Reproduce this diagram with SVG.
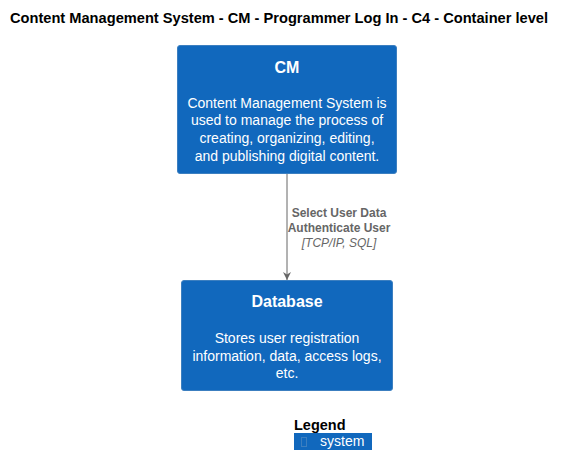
<svg xmlns="http://www.w3.org/2000/svg" width="566" height="476" viewBox="0 0 566 476">
<style>
text{font-family:"Liberation Sans",Arial,sans-serif}
.box{fill:#1168BD;stroke:#3C7FC0;stroke-width:1}
.nt{fill:#FFFFFF;font-size:16px;font-weight:bold;text-anchor:middle}
.nd{fill:#FFFFFF;font-size:14px;text-anchor:middle}
.el{fill:#666666;font-size:12px;font-weight:bold;text-anchor:middle}
.et{fill:#666666;font-size:12px;font-style:italic;text-anchor:middle}
</style>
<defs>
<marker id="arr" viewBox="0 0 10 10" refX="10" refY="5" markerWidth="8" markerHeight="8" markerUnits="userSpaceOnUse" orient="auto">
<path d="M0,0 L10,5 L0,10 L3,5 Z" fill="#666666"/>
</marker>
</defs>
<rect width="566" height="476" fill="#FFFFFF"/>
<text x="10" y="23" font-size="14" font-weight="bold" fill="#000000" textLength="538" lengthAdjust="spacingAndGlyphs">Content Management System - CM - Programmer Log In - C4 - Container level</text>
<g id="connectors">
<line x1="287" y1="173" x2="287" y2="280" stroke="#666666" stroke-width="1" marker-end="url(#arr)"/>
<text class="el" x="339" y="217">Select User Data</text>
<text class="el" x="339" y="232">Authenticate User</text>
<text class="et" x="339" y="247">[TCP/IP, SQL]</text>
</g>
<g id="cm">
<rect class="box" x="177.5" y="45.5" width="219" height="128" rx="2.5"/>
<text class="nt" x="287" y="73">CM</text>
<text class="nd" x="287" y="108">Content Management System is</text>
<text class="nd" x="287" y="125">used to manage the process of</text>
<text class="nd" x="287" y="143">creating, organizing, editing,</text>
<text class="nd" x="287" y="161">and publishing digital content.</text>
</g>
<g id="database">
<rect class="box" x="181.5" y="280.5" width="211" height="110" rx="2.5"/>
<text class="nt" x="287" y="307">Database</text>
<text class="nd" x="287" y="343">Stores user registration</text>
<text class="nd" x="287" y="361">information, data, access logs,</text>
<text class="nd" x="287" y="378">etc.</text>
</g>
<g id="legend">
<text x="294" y="430" font-size="14.5" font-weight="bold" fill="#000000">Legend</text>
<rect x="294" y="433" width="78" height="17" fill="#1168BD"/>
<rect x="301.5" y="437.5" width="5" height="9" fill="none" stroke="#3C7FC0" stroke-width="1"/>
<text x="320" y="446" font-size="14" fill="#FFFFFF">system</text>
</g>
</svg>
